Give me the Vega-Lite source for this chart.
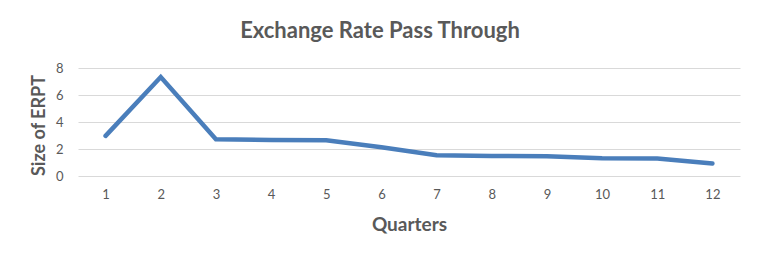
{
  "$schema": "https://vega.github.io/schema/vega-lite/v6.json",
  "width": 662,
  "height": 108,
  "autosize": {"type": "none"},
  "padding": {"left": 78, "top": 68, "right": 24, "bottom": 88},
  "background": "white",
  "title": {
    "text": "Exchange Rate Pass Through",
    "font": "Lato",
    "fontSize": 22,
    "fontWeight": "bold",
    "color": "#595959",
    "anchor": "middle",
    "dx": -29,
    "offset": 19
  },
  "data": {
    "values": [
      {"quarter": 1, "erpt": 2.97},
      {"quarter": 2, "erpt": 7.33},
      {"quarter": 3, "erpt": 2.72},
      {"quarter": 4, "erpt": 2.67},
      {"quarter": 5, "erpt": 2.65},
      {"quarter": 6, "erpt": 2.13},
      {"quarter": 7, "erpt": 1.53},
      {"quarter": 8, "erpt": 1.48},
      {"quarter": 9, "erpt": 1.47},
      {"quarter": 10, "erpt": 1.31},
      {"quarter": 11, "erpt": 1.3},
      {"quarter": 12, "erpt": 0.92}
    ]
  },
  "mark": {"type": "line", "color": "#4a7ebb", "strokeWidth": 4.5, "strokeCap": "round"},
  "encoding": {
    "x": {
      "field": "quarter",
      "type": "ordinal",
      "title": "Quarters",
      "scale": {"type": "point", "padding": 0.5},
      "axis": {
        "labelAngle": 0,
        "grid": false,
        "ticks": false,
        "domain": false,
        "labelPadding": 12,
        "titlePadding": 14,
        "titleFontSize": 19
      }
    },
    "y": {
      "field": "erpt",
      "type": "quantitative",
      "title": "Size of ERPT",
      "scale": {"domain": [0, 8], "nice": false},
      "axis": {
        "values": [0, 2, 4, 6, 8],
        "ticks": false,
        "domain": false,
        "labelPadding": 15,
        "titlePadding": 7,
        "titleY": 57,
        "gridColor": "#d9d9d9",
        "gridWidth": 1
      }
    }
  },
  "config": {
    "view": {"stroke": null},
    "axis": {
      "labelFont": "Lato",
      "labelFontSize": 13,
      "labelColor": "#595959",
      "titleFont": "Lato",
      "titleFontSize": 18,
      "titleFontWeight": "bold",
      "titleColor": "#595959"
    }
  }
}
